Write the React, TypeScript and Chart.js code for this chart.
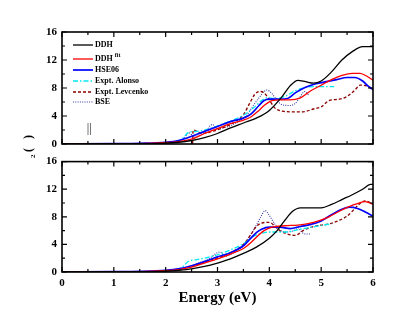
import React, { useEffect, useRef } from "react";
import { Chart, registerables } from "chart.js";

Chart.register(...registerables);

// ---------- Data (top panel) ----------
const topDDH_E = [0, 1.0, 1.5, 2.0, 2.25, 2.5, 2.75, 3.0, 3.25, 3.5, 3.75, 4.0, 4.25, 4.4, 4.55, 4.7, 4.85, 5.0, 5.2, 5.4, 5.6, 5.8, 6.0];
const topDDH_V = [0, 0, 0.03, 0.12, 0.25, 0.5, 0.9, 1.5, 2.3, 3.0, 3.7, 4.8, 6.8, 8.3, 9.1, 8.9, 8.7, 9.0, 10.3, 12.0, 13.2, 13.9, 13.9];

const topFit_E = [0, 1.0, 1.5, 2.0, 2.25, 2.5, 2.75, 3.0, 3.25, 3.5, 3.65, 3.8, 3.9, 4.05, 4.2, 4.4, 4.6, 4.8, 5.0, 5.2, 5.4, 5.6, 5.75, 5.9, 6.0];
const topFit_V = [0, 0.02, 0.05, 0.2, 0.35, 0.7, 1.5, 2.2, 2.9, 3.4, 3.9, 4.8, 5.5, 6.2, 6.3, 6.3, 6.6, 7.6, 8.4, 9.2, 9.8, 10.1, 10.1, 9.6, 9.1];

const topHSE_E = [0, 1.0, 1.5, 2.0, 2.25, 2.5, 2.75, 3.0, 3.25, 3.5, 3.65, 3.8, 3.9, 4.0, 4.2, 4.35, 4.5, 4.7, 4.9, 5.1, 5.3, 5.5, 5.65, 5.8, 5.9, 6.0];
const topHSE_V = [0, 0.05, 0.1, 0.25, 0.5, 1.1, 1.8, 2.5, 3.2, 3.7, 4.3, 5.5, 6.2, 6.4, 6.4, 6.5, 7.3, 8.1, 8.6, 8.9, 9.2, 9.5, 9.5, 9.0, 8.3, 7.8];

const topAlonso_E = [1.4, 1.8, 2.1, 2.3, 2.45, 2.6, 2.8, 3.0, 3.25, 3.5, 3.7, 3.85, 3.95, 4.1, 4.3, 4.5, 4.7, 4.9, 5.1, 5.25];
const topAlonso_V = [0, 0.05, 0.2, 0.6, 1.7, 1.8, 2.1, 2.6, 3.3, 4.1, 5.2, 6.2, 6.6, 6.5, 6.8, 7.6, 8.1, 8.2, 8.2, 8.2];

const topLev_E = [2.52, 2.53, 2.7, 2.9, 3.1, 3.3, 3.5, 3.62, 3.72, 3.82, 3.9, 4.0, 4.1, 4.25, 4.45, 4.65, 4.85, 5.0, 5.15, 5.35, 5.5, 5.65, 5.75, 5.88, 6.0];
const topLev_V = [0, 2.0, 1.5, 1.8, 2.3, 3.0, 4.2, 5.8, 7.1, 7.5, 7.3, 6.3, 5.2, 4.7, 4.6, 4.6, 5.0, 5.3, 6.2, 6.4, 6.8, 7.7, 8.4, 8.3, 7.7];

const topBSE_E = [1.5, 2.0, 2.2, 2.35, 2.45, 2.55, 2.7, 2.8, 2.9, 3.0, 3.1, 3.25, 3.4, 3.55, 3.7, 3.8, 3.9, 3.95, 4.05, 4.15, 4.25, 4.4, 4.5, 4.6, 4.68, 4.77];
const topBSE_V = [0, 0.1, 0.3, 0.8, 1.6, 1.0, 1.5, 2.1, 2.8, 2.1, 2.3, 2.6, 3.2, 4.0, 5.6, 6.6, 7.5, 7.7, 7.2, 6.2, 5.6, 5.5, 5.8, 6.8, 7.5, 6.9];

// ---------- Data (bottom panel) ----------
const botDDH_E = [0, 1, 1.5, 2, 2.25, 2.5, 2.75, 3.0, 3.25, 3.5, 3.75, 4.0, 4.15, 4.3, 4.45, 4.6, 4.8, 5.0, 5.2, 5.4, 5.6, 5.8, 5.95, 6.0];
const botDDH_V = [0, 0, 0.03, 0.12, 0.25, 0.45, 0.8, 1.3, 1.9, 2.7, 3.6, 4.9, 6.0, 7.5, 8.8, 9.3, 9.3, 9.3, 9.8, 10.5, 11.2, 12.0, 12.7, 12.7];

const botFit_E = [0, 1, 1.5, 2, 2.25, 2.5, 2.75, 3.0, 3.25, 3.5, 3.65, 3.8, 3.9, 4.05, 4.3, 4.55, 4.75, 4.95, 5.15, 5.35, 5.55, 5.7, 5.85, 6.0];
const botFit_V = [0, 0.02, 0.05, 0.2, 0.35, 0.7, 1.3, 1.9, 2.6, 3.4, 4.3, 5.4, 6.0, 6.5, 6.7, 6.8, 7.0, 7.4, 8.0, 8.8, 9.5, 9.9, 10.2, 9.8];

const botHSE_E = [0, 1, 1.5, 2, 2.25, 2.5, 2.75, 3.0, 3.25, 3.5, 3.63, 3.75, 3.85, 4.0, 4.2, 4.4, 4.6, 4.8, 5.0, 5.2, 5.4, 5.55, 5.7, 5.85, 6.0];
const botHSE_V = [0, 0.05, 0.1, 0.25, 0.45, 0.9, 1.5, 2.2, 2.8, 3.8, 4.8, 5.7, 6.2, 6.5, 6.5, 6.3, 6.6, 6.9, 7.4, 8.3, 9.1, 9.4, 9.2, 8.7, 8.1];

const botAlonso_E = [1.4, 1.8, 2.1, 2.3, 2.45, 2.6, 2.8, 3.0, 3.25, 3.5, 3.7, 3.85, 4.0, 4.3, 4.6, 4.9, 5.2];
const botAlonso_V = [0, 0.05, 0.2, 0.6, 1.6, 1.8, 2.1, 2.5, 3.2, 4.1, 5.2, 5.6, 5.8, 5.8, 6.2, 6.6, 7.0];

const botLev_E = [2.5, 2.7, 2.9, 3.1, 3.3, 3.5, 3.65, 3.75, 3.85, 4.0, 4.1, 4.2, 4.35, 4.5, 4.65, 4.85, 5.0, 5.17, 5.35, 5.5, 5.6, 5.7, 5.85, 6.0];
const botLev_V = [0.8, 1.3, 1.8, 2.3, 3.0, 4.0, 5.5, 6.6, 7.1, 7.2, 6.7, 6.0, 5.5, 5.3, 6.0, 6.6, 6.8, 7.0, 7.5, 8.1, 8.8, 9.6, 10.3, 9.9];

const botBSE_E = [1.5, 2.0, 2.3, 2.5, 2.7, 2.85, 3.0, 3.05, 3.15, 3.3, 3.5, 3.63, 3.75, 3.85, 3.92, 4.0, 4.1, 4.2, 4.35, 4.5, 4.56, 4.62, 4.7, 4.79];
const botBSE_V = [0, 0.1, 0.4, 0.9, 1.5, 2.0, 2.8, 2.9, 2.3, 2.7, 3.8, 5.3, 6.8, 8.2, 8.9, 8.2, 7.0, 6.1, 5.8, 6.1, 6.4, 5.8, 5.5, 5.5];

// ---------- Labels ----------
const seriesNames = ["DDH", "DDH", "HSE06", "Expt. Alonso", "Expt. Levcenko", "BSE"];
const yTicks = [0, 4, 8, 12, 16];
const xTicks = [0, 1, 2, 3, 4, 5, 6];
const xTitle = "Energy (eV)";

const styles = [
  { color: "#000000", width: 1.3, dash: [] as number[] },
  { color: "#ff0000", width: 1.3, dash: [] as number[] },
  { color: "#0000ff", width: 1.7, dash: [] as number[] },
  { color: "#00e8f0", width: 1.3, dash: [5, 2, 1.5, 2] },
  { color: "#8b0000", width: 1.3, dash: [3, 2] },
  { color: "#3a3aa8", width: 1.1, dash: [1, 1.3] },
];

const SERIF = '"Liberation Serif", "Times New Roman", serif';

function pts(e: number[], v: number[]) {
  return e.map((x, i) => ({ x, y: v[i] }));
}

function makeDatasets(sets: [number[], number[]][]) {
  return sets.map((s, i) => ({
    label: seriesNames[i],
    data: pts(s[0], s[1]),
    borderColor: styles[i].color,
    borderWidth: styles[i].width,
    borderDash: styles[i].dash,
    pointRadius: 0,
    cubicInterpolationMode: "monotone" as const,
    fill: false,
  }));
}

const framePlugin = {
  id: "frame",
  afterDraw(chart: any) {
    const { ctx, chartArea: a, scales } = chart;
    const xs = scales.x;
    const ys = scales.y;
    ctx.save();
    ctx.strokeStyle = "#000";
    ctx.lineWidth = 1.2;
    ctx.beginPath();
    for (let v = 0; v <= 16; v += 2) {
      const y = ys.getPixelForValue(v);
      const len = v % 4 === 0 ? 5 : 3;
      ctx.moveTo(a.left, y);
      ctx.lineTo(a.left + len, y);
      ctx.moveTo(a.right, y);
      ctx.lineTo(a.right - len, y);
    }
    for (let v = 0; v <= 6.001; v += 0.5) {
      const x = xs.getPixelForValue(v);
      const len = Math.abs(v - Math.round(v)) < 0.01 ? 5 : 3;
      ctx.moveTo(x, a.bottom);
      ctx.lineTo(x, a.bottom - len);
      ctx.moveTo(x, a.top);
      ctx.lineTo(x, a.top + len);
    }
    ctx.stroke();
    ctx.lineWidth = 1.6;
    ctx.strokeRect(a.left, a.top, a.right - a.left, a.bottom - a.top);
    ctx.restore();
  },
};

const topExtras = {
  id: "topExtras",
  afterDraw(chart: any) {
    const { ctx } = chart;
    ctx.save();
    const x0 = 73, x1 = 93, tx = 95;
    const rows = [45, 59, 70, 81, 92, 102];
    ctx.textBaseline = "middle";
    ctx.fillStyle = "#000";
    rows.forEach((y, i) => {
      ctx.beginPath();
      ctx.strokeStyle = styles[i].color;
      ctx.lineWidth = styles[i].width;
      ctx.setLineDash(styles[i].dash);
      ctx.moveTo(x0, y);
      ctx.lineTo(x1, y);
      ctx.stroke();
      ctx.setLineDash([]);
      ctx.font = `bold 8px ${SERIF}`;
      ctx.fillText(seriesNames[i], tx, y);
      if (i === 1) {
        const w = ctx.measureText(seriesNames[i]).width;
        ctx.font = `bold 6px ${SERIF}`;
        ctx.fillText("fit", tx + w + 2, y - 4);
      }
    });
    ctx.strokeStyle = "#777";
    ctx.lineWidth = 1;
    ctx.beginPath();
    ctx.moveTo(88, 123);
    ctx.lineTo(88, 135);
    ctx.moveTo(90.5, 123);
    ctx.lineTo(90.5, 135);
    ctx.stroke();
    ctx.translate(32, 158);
    ctx.rotate(-Math.PI / 2);
    ctx.fillStyle = "#000";
    ctx.textBaseline = "alphabetic";
    ctx.font = `bold 7px ${SERIF}`;
    ctx.fillText("2", 0, 3);
    ctx.font = `bold 12px ${SERIF}`;
    ctx.fillText("(   )", 6, 0);
    ctx.restore();
  },
};

const bottomExtras = {
  id: "bottomExtras",
  afterDraw(chart: any) {
    const { ctx, chartArea: a } = chart;
    ctx.save();
    ctx.font = `bold 15px ${SERIF}`;
    ctx.fillStyle = "#000";
    ctx.textAlign = "center";
    ctx.textBaseline = "middle";
    ctx.fillText(xTitle, (a.left + a.right) / 2, 148);
    ctx.restore();
  },
};

function makeOptions(showX: boolean, padTop: number, padBottom: number) {
  return {
    responsive: false,
    animation: false as const,
    devicePixelRatio: 1,
    layout: { padding: { left: 0, right: 42, top: padTop, bottom: padBottom } },
    plugins: { legend: { display: false }, tooltip: { enabled: false } },
    scales: {
      x: {
        type: "linear" as const,
        min: 0,
        max: 6,
        display: showX,
        grid: { display: false, drawTicks: false },
        border: { display: false },
        afterBuildTicks: (s: any) => {
          s.ticks = xTicks.map((v) => ({ value: v }));
        },
        afterFit: (s: any) => {
          s.height = showX ? 49 : 0;
        },
        ticks: {
          color: "#000",
          padding: 5,
          maxRotation: 0,
          font: { family: SERIF, weight: "bold" as const, size: 11 },
        },
      },
      y: {
        min: 0,
        max: 16,
        grid: { display: false, drawTicks: false },
        border: { display: false },
        afterBuildTicks: (s: any) => {
          s.ticks = yTicks.map((v) => ({ value: v }));
        },
        afterFit: (s: any) => {
          s.width = 62;
        },
        ticks: {
          color: "#000",
          padding: 5,
          font: { family: SERIF, weight: "bold" as const, size: 11 },
        },
      },
    },
  };
}

export default function App() {
  const topRef = useRef<HTMLCanvasElement>(null);
  const botRef = useRef<HTMLCanvasElement>(null);

  useEffect(() => {
    document.body.style.margin = "0";
    const top = new Chart(topRef.current!, {
      type: "line",
      data: {
        datasets: makeDatasets([
          [topDDH_E, topDDH_V],
          [topFit_E, topFit_V],
          [topHSE_E, topHSE_V],
          [topAlonso_E, topAlonso_V],
          [topLev_E, topLev_V],
          [topBSE_E, topBSE_V],
        ]),
      },
      options: makeOptions(false, 32, 16) as any,
      plugins: [framePlugin, topExtras],
    });
    const bot = new Chart(botRef.current!, {
      type: "line",
      data: {
        datasets: makeDatasets([
          [botDDH_E, botDDH_V],
          [botFit_E, botFit_V],
          [botHSE_E, botHSE_V],
          [botAlonso_E, botAlonso_V],
          [botLev_E, botLev_V],
          [botBSE_E, botBSE_V],
        ]),
      },
      options: makeOptions(true, 10, 0) as any,
      plugins: [framePlugin, bottomExtras],
    });
    return () => {
      top.destroy();
      bot.destroy();
    };
  }, []);

  return (
    <div style={{ position: "absolute", left: 0, top: 0, width: 415, height: 321, background: "#fff" }}>
      <canvas ref={topRef} width={415} height={160} style={{ position: "absolute", left: 0, top: 0, width: 415, height: 160 }} />
      <canvas ref={botRef} width={415} height={171} style={{ position: "absolute", left: 0, top: 150, width: 415, height: 171 }} />
    </div>
  );
}
